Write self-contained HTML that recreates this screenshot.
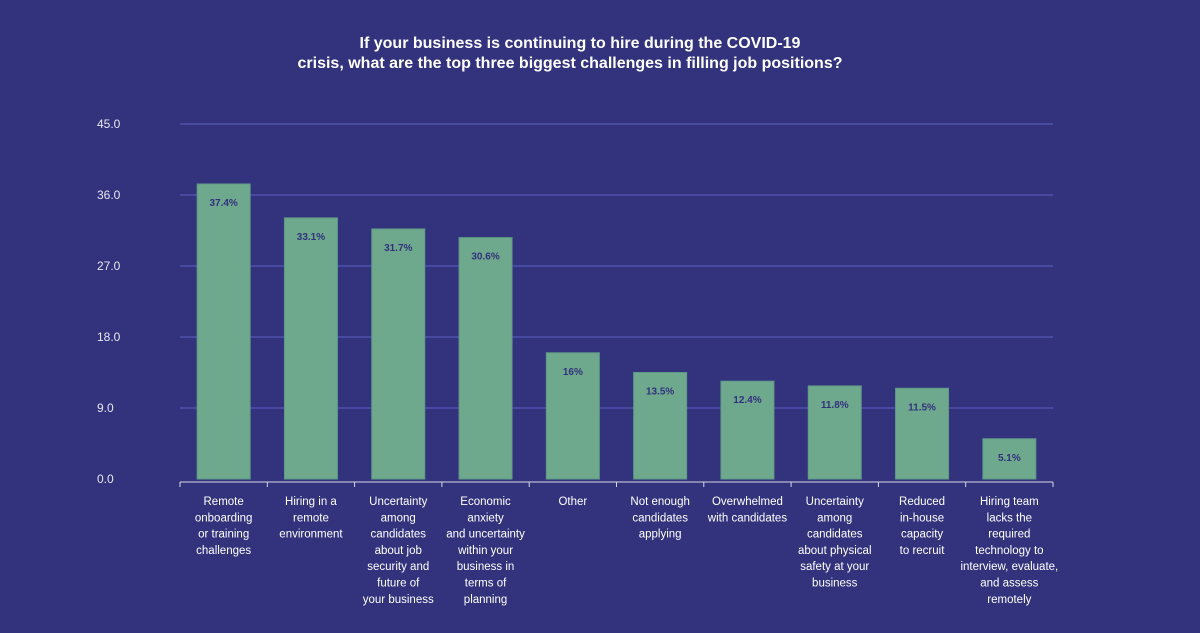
<!DOCTYPE html>
<html><head><meta charset="utf-8"><style>
html,body{margin:0;padding:0;background:#33327d;width:1200px;height:633px;overflow:hidden}
svg{display:block}
text{font-family:"Liberation Sans",Arial,sans-serif}
</style></head><body>
<svg id="chart" width="1200" height="633" xmlns="http://www.w3.org/2000/svg">
<text x="580" y="48" text-anchor="middle" fill="#ffffff" font-size="16" font-weight="bold">If your business is continuing to hire during the COVID-19</text>
<text x="570" y="68" text-anchor="middle" fill="#ffffff" font-size="16" font-weight="bold">crisis, what are the top three biggest challenges in filling job positions?</text>
<g id="grid"></g><g id="bars"></g><g id="xaxis"></g>
</svg>
<script>
const categories=[
["Remote","onboarding","or training","challenges"],
["Hiring in a","remote","environment"],
["Uncertainty","among","candidates","about job","security and","future of","your business"],
["Economic","anxiety","and uncertainty","within your","business in","terms of","planning"],
["Other"],
["Not enough","candidates","applying"],
["Overwhelmed","with candidates"],
["Uncertainty","among","candidates","about physical","safety at your","business"],
["Reduced","in-house","capacity","to recruit"],
["Hiring team","lacks the","required","technology to","interview, evaluate,","and assess","remotely"]];
const values=[37.4,33.1,31.7,30.6,16,13.5,12.4,11.8,11.5,5.1];
const valueLabels=["37.4%","33.1%","31.7%","30.6%","16%","13.5%","12.4%","11.8%","11.5%","5.1%"];
const ticks=[0,9,18,27,36,45];
const tickLabels=["0.0","9.0","18.0","27.0","36.0","45.0"];
const NS="http://www.w3.org/2000/svg";
const x0=180,x1=1053,yTop=124,yBot=479,yMax=45;
const band=(x1-x0)/values.length;
const y=v=>yBot-(v/yMax)*(yBot-yTop);
const xc=i=>x0+band*(i+0.5);
function mk(tag,attrs,parent){const e=document.createElementNS(NS,tag);for(const k in attrs)e.setAttribute(k,attrs[k]);parent.appendChild(e);return e;}
const grid=document.getElementById('grid'),bars=document.getElementById('bars'),xa=document.getElementById('xaxis');
ticks.forEach((t,i)=>{
 if(t>0){const l=mk('line',{x1:x0,x2:x1,y1:y(t),y2:y(t),stroke:'#5d63c8','stroke-width':1},grid);
 
 }
 const tx=mk('text',{x:97,y:y(t)+4,fill:'#e8e8f2','font-size':12},grid);tx.textContent=tickLabels[i];
 
 
});
values.forEach((v,i)=>{
 const r=mk('rect',{x:xc(i)-26.5,y:y(v),width:53,height:yBot-y(v),fill:'#6ea88d',stroke:'#5f9a86','stroke-width':1},bars);
 
 
 const t=mk('text',{x:xc(i),y:y(v)+22,'text-anchor':'middle',fill:'#33327d','font-size':10,'font-weight':'bold'},bars);
 t.textContent=valueLabels[i];
 
 
 categories[i].forEach((ln,j)=>{
  const c=mk('text',{x:xc(i),y:505+j*16.3,'text-anchor':'middle',fill:'#ffffff','font-size':11.5},xa);
  c.textContent=ln;
  
  
 });
});
const ax=mk('line',{x1:x0,x2:x1,y1:482,y2:482,stroke:'#d8d8e8','stroke-width':1},xa);


for(let i=0;i<=values.length;i++){
 const tk=mk('line',{x1:x0+band*i,x2:x0+band*i,y1:482,y2:487,stroke:'#d8d8e8','stroke-width':1},xa);
 
 
}
</script>
</body></html>
